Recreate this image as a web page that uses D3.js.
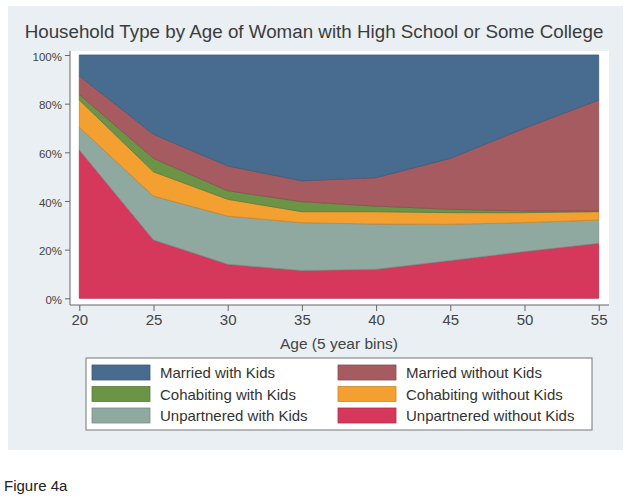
<!DOCTYPE html>
<html><head><meta charset="utf-8">
<script src="https://cdn.jsdelivr.net/npm/d3@7"></script>
<style>
body{margin:0;background:#fff;}
svg{display:block;font-family:"Liberation Sans",Arial,sans-serif;}
</style></head>
<body><svg id="c" width="629" height="500"></svg>
<script>
const ages = [20,25,30,35,40,45,50,55];
const unpartneredWithout = [61, 24, 14, 11.4, 11.9, 15.5, 19.2, 22.6];
const unpartneredWith = [9.3, 18, 19.8, 19.7, 18.6, 14.9, 11.9, 9.6];
const cohabitingWithout = [11.2, 10, 6.9, 4.5, 5.1, 4.8, 4.1, 3.4];
const cohabitingWith = [2.3, 5.5, 3.5, 4.1, 2.3, 1.4, 0.7, 0.3];
const marriedWithout = [7.6, 9.9, 10.2, 8.6, 11.7, 20.9, 34, 45.6];
const marriedWith = [8.6, 32.6, 45.6, 51.7, 50.4, 42.5, 30.1, 18.5];
const yTicks = [0,20,40,60,80,100];
const yTickLabels = ["0%","20%","40%","60%","80%","100%"];
const xTicks = [20,25,30,35,40,45,50,55];
const seriesNames = ["Unpartnered without Kids","Unpartnered with Kids","Cohabiting without Kids","Cohabiting with Kids","Married without Kids","Married with Kids"];
const seriesColors = ["#d6385b","#8fa9a0","#f4a030","#6b9447","#a65b61","#486c90"];
const legendOrder = ["Married with Kids","Married without Kids","Cohabiting with Kids","Cohabiting without Kids","Unpartnered with Kids","Unpartnered without Kids"];
const titleText = "Household Type by Age of Woman with High School or Some College";
const xTitle = "Age (5 year bins)";
const caption = "Figure 4a";

const seriesValues = [unpartneredWithout, unpartneredWith, cohabitingWithout, cohabitingWith, marriedWithout, marriedWith];
const table = ages.map((a,i)=>{const r={age:a}; seriesNames.forEach((n,k)=>r[n]=seriesValues[k][i]); return r;});
const color = d3.scaleOrdinal().domain(seriesNames).range(seriesColors);

const svg = d3.select("#c");
// outer panel
svg.append("rect").attr("x",8).attr("y",6).attr("width",615).attr("height",444).attr("fill","#e9eff2");
// plot region
const pr = {l:70, t:51, r:609, b:305};
svg.append("rect").attr("x",pr.l).attr("y",pr.t).attr("width",pr.r-pr.l).attr("height",pr.b-pr.t).attr("fill","#fff");

const x = d3.scaleLinear().domain([20,55]).range([79.3,598.7]);
const y = d3.scaleLinear().domain([0,100]).range([298.3,55]);

const stack = d3.stack().keys(seriesNames);
const layers = stack(table);
const area = d3.area().x(d=>x(d.data.age)).y0(d=>y(d[0])).y1(d=>y(d[1]));
svg.append("g").selectAll("path").data(layers).join("path")
  .attr("d",area)
  .attr("fill",d=>color(d.key))
  .attr("stroke",d=>d3.color(color(d.key)).darker(0.5))
  .attr("stroke-width",0.8)
  .attr("stroke-linejoin","round");

// y axis
const yAxis = d3.axisLeft(y).tickValues(yTicks).tickFormat((d,i)=>yTickLabels[i]).tickSize(5).tickPadding(3);
const gy = svg.append("g").attr("transform",`translate(${pr.l},0)`).call(yAxis);
gy.select(".domain").remove();
gy.selectAll(".tick line").attr("stroke","#666");
gy.selectAll(".tick text").attr("font-size","11.5px").attr("fill","#444").attr("font-family","Liberation Sans, Arial, sans-serif").attr("dy","0.45em");
svg.append("line").attr("x1",pr.l).attr("x2",pr.l).attr("y1",pr.t).attr("y2",pr.b).attr("stroke","#666");

// x axis
const xAxis = d3.axisBottom(x).tickValues(xTicks).tickSize(6).tickPadding(3);
const gx = svg.append("g").attr("transform",`translate(0,${pr.b})`).call(xAxis);
gx.select(".domain").remove();
gx.selectAll(".tick line").attr("stroke","#666");
gx.selectAll(".tick text").attr("font-size","15px").attr("fill","#444").attr("font-family","Liberation Sans, Arial, sans-serif");
svg.append("line").attr("x1",pr.l).attr("x2",pr.r).attr("y1",pr.b).attr("y2",pr.b).attr("stroke","#666");

svg.append("text").attr("x",(x(20)+x(55))/2).attr("y",349).attr("text-anchor","middle")
  .attr("font-size","15.5px").attr("fill","#444").text(xTitle);

// title
svg.append("text").attr("x",314).attr("y",38).attr("text-anchor","middle")
  .attr("font-size","18.8px").attr("fill","#3c3c3c").text(titleText);

// legend
const lg = svg.append("g");
lg.append("rect").attr("x",86).attr("y",358).attr("width",506).attr("height",72).attr("fill","#fff").attr("stroke","#777");
legendOrder.forEach((n,i)=>{
  const col = i%2, row = Math.floor(i/2);
  const sx = col===0 ? 92 : 338;
  const cy = 372.5 + row*21.5;
  lg.append("rect").attr("x",sx).attr("y",cy-7.5).attr("width",58).attr("height",15)
    .attr("fill",color(n)).attr("stroke",d3.color(color(n)).darker(0.5)).attr("stroke-width",0.8);
  lg.append("text").attr("x",sx+68).attr("y",cy+5.5).attr("font-size","15px").attr("fill","#333").text(n);
});

// caption
svg.append("text").attr("x",4).attr("y",491).attr("font-size","15px").attr("fill","#222").text(caption);
</script></body></html>
